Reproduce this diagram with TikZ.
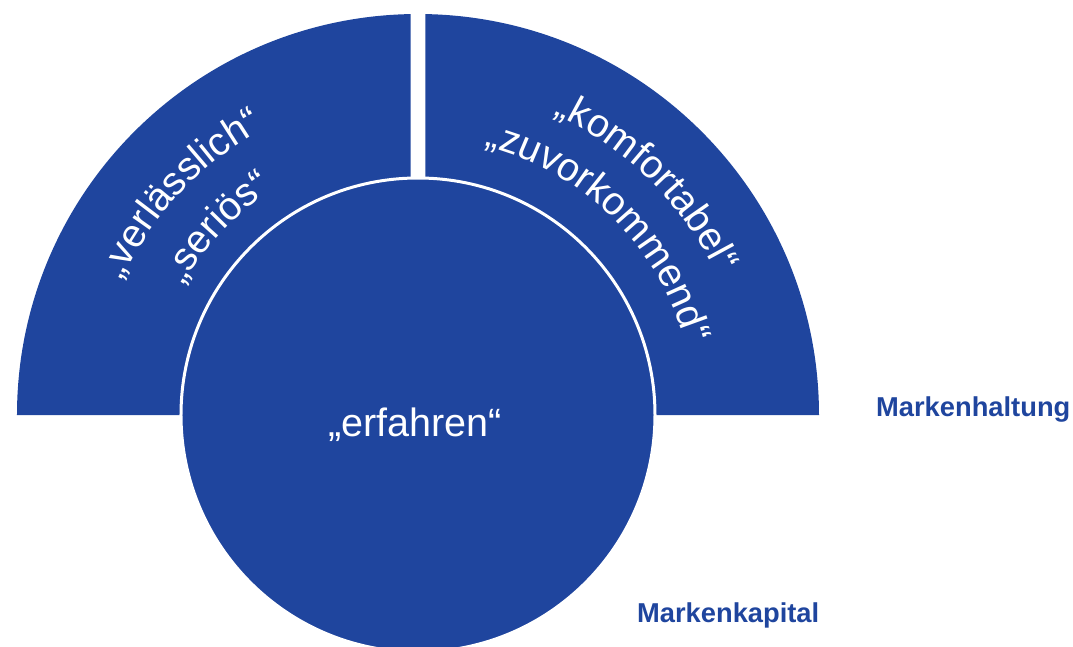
\documentclass[tikz,border=0pt]{standalone}
\usepackage{fontspec}
\setmainfont{Liberation Sans}
\usepackage{xcolor}
\definecolor{brandblue}{RGB}{31,69,158}
\usetikzlibrary{decorations.text}
\newcommand\wordfont{\fontsize{39.5}{47}\selectfont}

\begin{document}
\begin{tikzpicture}[
  x=1pt,y=1pt,
  seg/.style={fill=brandblue},
  ring/.style={decorate,decoration={text along path,text align=center,text={|\wordfont\color{white}|#1}}},
  axislabel/.style={anchor=base west,text=brandblue,font=\fontsize{27.3}{32}\selectfont\bfseries,inner sep=0pt}
]
  \clip (-418,-231) rectangle (655,415);
  % Markenhaltung: two quarter rings
  \fill[seg] (-7.5,0) -- (-401,0) arc[start angle=180,end angle={acos(-7.5/401)},radius=401] -- cycle;
  \fill[seg] (7.5,0) -- (401,0) arc[start angle=0,end angle={acos(7.5/401)},radius=401] -- cycle;
  % Markenkapital: inner circle
  \filldraw[fill=brandblue,draw=white,line width=3pt] (0,0) circle[radius=237];
  % words on the rings
  \path[ring={„verlässlich“}] (182:325) arc[start angle=182,end angle=92,radius=325];
  \path[ring={„seriös“}] (182:268) arc[start angle=182,end angle=92,radius=268];
  \path[ring={„komfortabel“}] (90.5:330) arc[start angle=90.5,end angle=0.5,radius=330];
  \path[ring={„zuvorkommend“}] (90.5:277) arc[start angle=90.5,end angle=0.5,radius=277];
  \node[anchor=base,text=white,font=\wordfont,inner sep=0pt] (core) at (-3,-21) {„erfahren“};
  % labels
  \node[axislabel] (haltung) at (458,-1) {Markenhaltung};
  \node[axislabel] (kapital) at (219,-207) {Markenkapital};
\end{tikzpicture}
\end{document}
